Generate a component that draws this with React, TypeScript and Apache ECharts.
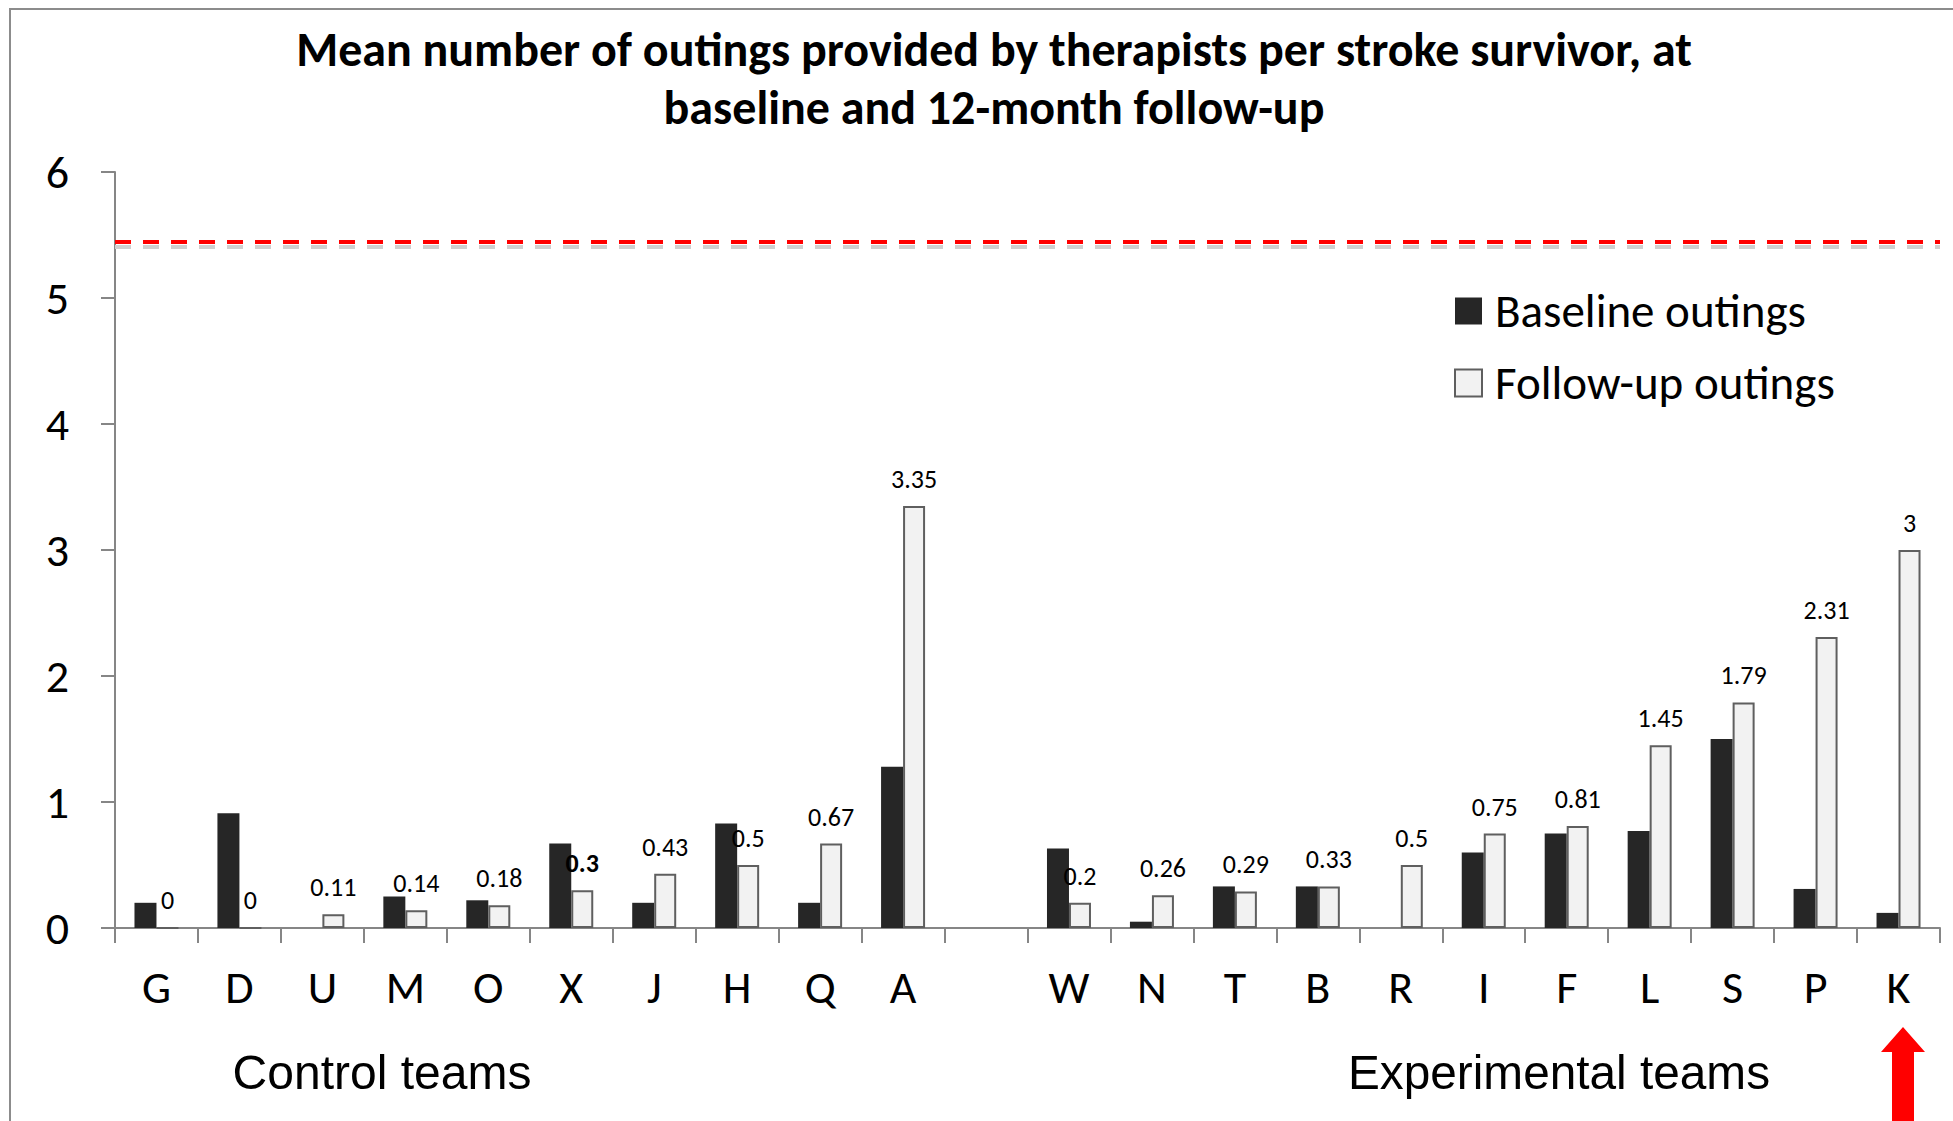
import React, { useEffect, useRef } from "react";
import * as echarts from "echarts";

const categories = ["G", "D", "U", "M", "O", "X", "J", "H", "Q", "A", "", "W", "N", "T", "B", "R", "I", "F", "L", "S", "P", "K"];
const baselineOutings = [0.2, 0.91, 0, 0.25, 0.22, 0.67, 0.2, 0.83, 0.2, 1.28, null, 0.63, 0.05, 0.33, 0.33, 0, 0.6, 0.75, 0.77, 1.5, 0.31, 0.12];
const followUpOutings = [0, 0, 0.11, 0.14, 0.18, 0.3, 0.43, 0.5, 0.67, 3.35, null, 0.2, 0.26, 0.29, 0.33, 0.5, 0.75, 0.81, 1.45, 1.79, 2.31, 3];
const yTicks = [0, 1, 2, 3, 4, 5, 6];
const targetLine = 5.45;
const targetShadow = 5.41;
const boldLabelCategory = "X";

const titleText = "Mean number of outings provided by therapists per stroke survivor, at\nbaseline and 12-month follow-up";
const FONT = "Carlito, Lato, sans-serif";

export default function App() {
  const ref = useRef<HTMLDivElement>(null);
  useEffect(() => {
    if (!ref.current) return;
    const chart = echarts.init(ref.current, undefined, { renderer: "svg" });
    const followData = followUpOutings.map((v, i) =>
      categories[i] === boldLabelCategory
        ? { value: v, label: { fontWeight: "bold" } }
        : v
    );
    chart.setOption({
      animation: false,
      backgroundColor: "#ffffff",
      title: {
        text: titleText,
        left: 989,
        textAlign: "center",
        top: 15,
        textStyle: {
          fontFamily: FONT,
          fontWeight: "bold",
          fontSize: 48,
          lineHeight: 58,
          color: "#000",
        },
      },
      legend: {
        orient: "vertical",
        left: 1449,
        top: 281,
        itemWidth: 27,
        itemHeight: 27,
        itemGap: 22,
        icon: "rect",
        textStyle: {
          fontFamily: FONT,
          fontSize: 47,
          lineHeight: 50,
          color: "#000",
          padding: [0, 0, 0, 8],
        },
      },
      grid: { left: 115, right: 13, top: 172, bottom: 193, containLabel: false },
      xAxis: {
        type: "category",
        data: categories,
        axisLine: { lineStyle: { color: "#868686", width: 2 } },
        axisTick: { show: true, alignWithLabel: false, length: 15, lineStyle: { color: "#868686", width: 2 } },
        axisLabel: { fontFamily: FONT, fontSize: 46, color: "#000", margin: 36, interval: 0 },
      },
      yAxis: {
        type: "value",
        min: yTicks[0],
        max: yTicks[yTicks.length - 1],
        interval: 1,
        splitLine: { show: false },
        axisLine: { show: true, lineStyle: { color: "#868686", width: 2 } },
        axisTick: { show: true, length: 14, lineStyle: { color: "#868686", width: 2 } },
        axisLabel: { fontFamily: FONT, fontSize: 46, color: "#000", margin: 46 },
      },
      series: [
        {
          name: "Baseline outings",
          type: "bar",
          data: baselineOutings,
          barWidth: 22,
          barGap: "0%",
          itemStyle: { color: "#262626" },
          markLine: {
            silent: true,
            symbol: "none",
            label: { show: false },
            data: [
              { yAxis: targetShadow, lineStyle: { color: "#d0d0d0", width: 4, type: [16, 12] } },
              { yAxis: targetLine, lineStyle: { color: "#ff0000", width: 4, type: [16, 12] } },
            ],
          },
        },
        {
          name: "Follow-up outings",
          type: "bar",
          data: followData,
          barWidth: 22,
          itemStyle: { color: "#f2f2f2", borderColor: "#5f5f5f", borderWidth: 2 },
          label: {
            show: true,
            position: "top",
            distance: 14,
            fontFamily: FONT,
            fontSize: 26,
            color: "#000",
          },
        },
      ],
      graphic: [
        {
          type: "rect",
          shape: { x: 10, y: 9, width: 1980, height: 1140 },
          style: { fill: "none", stroke: "#8c8c8c", lineWidth: 2 },
          silent: true,
        },
        {
          type: "text",
          x: 382,
          y: 1072,
          scaleX: 0.98,
          style: {
            text: "Control teams",
            x: 0,
            y: 0,
            font: "49px 'Liberation Sans', Arial, sans-serif",
            fill: "#000",
            align: "center",
            verticalAlign: "middle",
            textAlign: "center",
            textVerticalAlign: "middle",
          },
        },
        {
          type: "text",
          x: 1559,
          y: 1072,
          scaleX: 0.975,
          style: {
            text: "Experimental teams",
            x: 0,
            y: 0,
            font: "49px 'Liberation Sans', Arial, sans-serif",
            fill: "#000",
            align: "center",
            verticalAlign: "middle",
            textAlign: "center",
            textVerticalAlign: "middle",
          },
        },
        {
          type: "polygon",
          shape: {
            points: [
              [1881, 1052],
              [1903, 1027],
              [1925, 1052],
              [1914, 1052],
              [1914, 1125],
              [1892, 1125],
              [1892, 1052],
            ],
          },
          style: { fill: "#ff0000" },
          silent: true,
        },
      ],
    });
    return () => chart.dispose();
  }, []);
  return (
    <div
      ref={ref}
      style={{ position: "absolute", left: 0, top: 0, width: 1953, height: 1121 }}
    />
  );
}
